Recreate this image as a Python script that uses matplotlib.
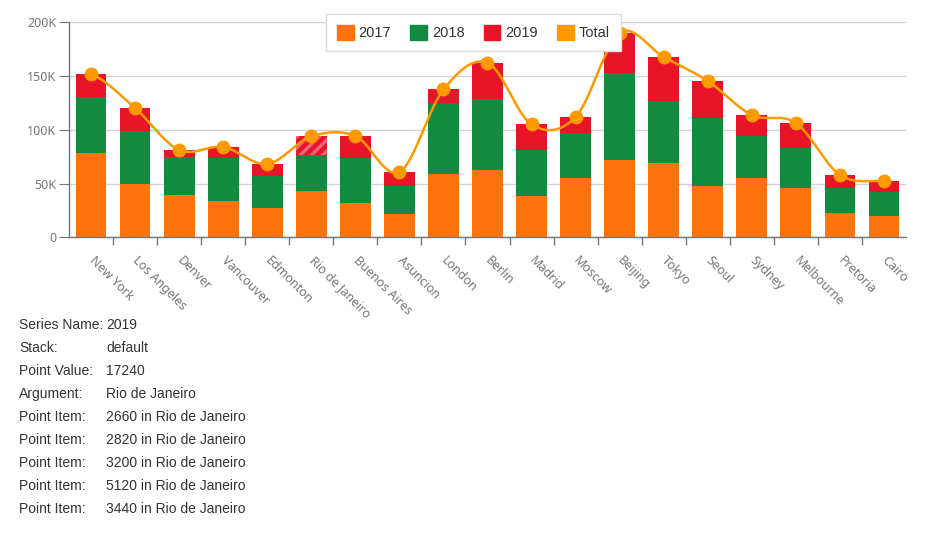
import numpy as np
import matplotlib
matplotlib.use("Agg")
import matplotlib.pyplot as plt
from matplotlib.patches import Patch
from matplotlib.ticker import FuncFormatter, FixedLocator

cities = ["New York", "Los Angeles", "Denver", "Vancouver", "Edmonton",
          "Rio de Janeiro", "Buenos Aires", "Asuncion", "London", "Berlin",
          "Madrid", "Moscow", "Beijing", "Tokyo", "Seoul", "Sydney",
          "Melbourne", "Pretoria", "Cairo"]
y2017 = [78400, 49900, 39300, 33800, 27300, 43100, 31900, 21700, 58900, 62600,
         38400, 55200, 71900, 69100, 47700, 55200, 45900, 22600, 19800]
y2018 = [51700, 49000, 35400, 40000, 30000, 33500, 41900, 26000, 65700, 66100,
         42800, 41800, 80900, 57700, 63200, 39000, 37500, 23300, 22300]
y2019 = [21800, 21300, 6500, 10200, 10900, 17240, 20400, 13000, 12900, 33700,
         23800, 14900, 37200, 40900, 34500, 19600, 22900, 12100, 10300]

info_labels = ["Series Name:", "Stack:", "Point Value:", "Argument:",
               "Point Item:", "Point Item:", "Point Item:", "Point Item:", "Point Item:"]
info_values = ["2019", "default", "17240", "Rio de Janeiro",
               "2660 in Rio de Janeiro", "2820 in Rio de Janeiro",
               "3200 in Rio de Janeiro", "5120 in Rio de Janeiro",
               "3440 in Rio de Janeiro"]

c17, c18, c19, ctot = "#ff730d", "#128a40", "#e81427", "#ff9900"
grey = "#767676"


def cardinal(xs, ys, n=30, t=0.5):
    # smooth curve through the points (Catmull-Rom style)
    xs = np.asarray(xs, float)
    ys = np.asarray(ys, float)
    px = np.concatenate([[xs[0]], xs, [xs[-1]]])
    py = np.concatenate([[ys[0]], ys, [ys[-1]]])
    ox, oy = [], []
    for i in range(1, len(px) - 2):
        p0, p1, p2, p3 = py[i - 1], py[i], py[i + 1], py[i + 2]
        m1 = t * (p2 - p0)
        m2 = t * (p3 - p1)
        s = np.linspace(0, 1, n, endpoint=False)
        h00 = 2 * s**3 - 3 * s**2 + 1
        h10 = s**3 - 2 * s**2 + s
        h01 = -2 * s**3 + 3 * s**2
        h11 = s**3 - s**2
        ox.extend(px[i] + s * (px[i + 1] - px[i]))
        oy.extend(h00 * p1 + h10 * m1 + h01 * p2 + h11 * m2)
    ox.append(xs[-1])
    oy.append(ys[-1])
    return np.array(ox), np.array(oy)


plt.rcParams["hatch.linewidth"] = 2.5
fig = plt.figure(figsize=(9.5, 5.44), dpi=100)
ax = fig.add_axes([0.0726, 0.5638, 0.8811, 0.3952])

x = np.arange(len(cities))
a = np.array(y2017)
b = np.array(y2018)
c = np.array(y2019)
total = a + b + c

ax.bar(x, a, width=0.7, color=c17, zorder=2)
ax.bar(x, b, width=0.7, bottom=a, color=c18, zorder=2)
bars19 = ax.bar(x, c, width=0.7, bottom=a + b, color=c19, zorder=2)
rio = cities.index("Rio de Janeiro")
bars19[rio].set_hatch("///")
bars19[rio].set_edgecolor("#f0637a")
bars19[rio].set_linewidth(0)

sx, sy = cardinal(x, total)
ax.plot(sx, sy, color=ctot, lw=1.8, zorder=3)
ax.plot(x, total, "o", color=ctot, ms=9, zorder=4)

ax.set_xlim(-0.5, len(cities) - 0.5)
ax.set_ylim(0, 200000)
ax.set_yticks([0, 50000, 100000, 150000, 200000])
ax.yaxis.set_major_formatter(FuncFormatter(lambda v, p: "0" if v == 0 else "%dK" % (v / 1000)))
ax.grid(axis="y", color="#d3d3d3", lw=1, zorder=0)

ax.set_xticks(x)
ax.set_xticklabels(cities, rotation=-45, ha="left", va="center",
                   rotation_mode="anchor", fontsize=9, color=grey, family="Noto Sans")
ax.tick_params(axis="x", which="major", length=0, pad=15)
ax.xaxis.set_minor_locator(FixedLocator(np.arange(0.5, len(cities) - 1, 1.0)))
ax.tick_params(axis="x", which="minor", length=6, color=grey, width=1)
ax.tick_params(axis="y", length=7, color=grey, labelcolor=grey, labelsize=9, pad=2)
for lab in ax.get_yticklabels():
    lab.set_family("Noto Sans")

for s in ["top", "right"]:
    ax.spines[s].set_visible(False)
for s in ["left", "bottom"]:
    ax.spines[s].set_color(grey)
    ax.spines[s].set_linewidth(1)

handles = [Patch(color=c17, label="2017"), Patch(color=c18, label="2018"),
           Patch(color=c19, label="2019"), Patch(color=ctot, label="Total")]
leg = fig.legend(handles=handles, loc="upper center", bbox_to_anchor=(0.4984, 0.974),
                 ncol=4, frameon=True, fancybox=False, framealpha=1,
                 borderaxespad=0, handlelength=1.15, handleheight=1.15,
                 handletextpad=0.35, columnspacing=1.3, borderpad=0.75,
                 prop={"family": "Liberation Sans", "size": 10.5})
leg.get_frame().set_edgecolor("#dcdcdc")
leg.get_frame().set_linewidth(1)
for t in leg.get_texts():
    t.set_color("#333333")

for i, (lab, val) in enumerate(zip(info_labels, info_values)):
    yy = 1 - (325 + 23 * i) / 544
    fig.text(19 / 950, yy, lab, fontsize=10, family="Liberation Sans",
             color="#333333", va="center")
    fig.text(106 / 950, yy, val, fontsize=10, family="Liberation Sans",
             color="#333333", va="center")

fig.savefig("out.png", dpi=100)
